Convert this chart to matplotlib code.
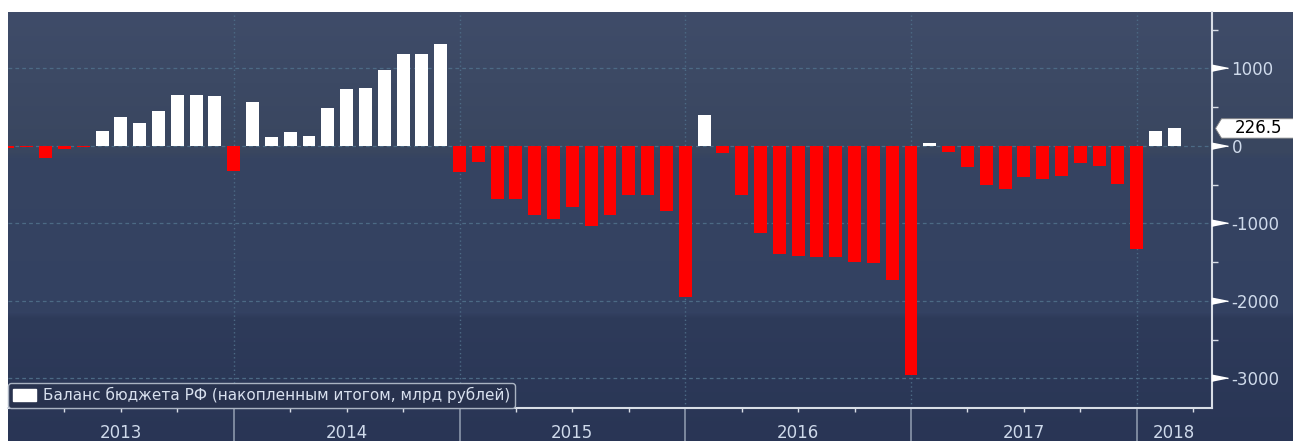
import numpy as np
import matplotlib.pyplot as plt
import matplotlib.transforms as mtransforms
from matplotlib.patches import Patch, Polygon

plt.rcParams['font.family'] = ['DejaVu Sans']

# Баланс бюджета РФ, накопленным итогом, млрд руб., помесячно с дек. 2012 по фев. 2018
values = [
    -30,                                                                   # 2012-12
    -15, -155, -45, -12, 197, 374, 292, 447, 662, 662, 650, -323,         # 2013
    568, 116, 181, 129, 486, 731, 744, 976, 1183, 1183, 1320, -330,       # 2014
    -210, -680, -680, -894, -938, -787, -1032, -894, -636, -636, -839, -1950,   # 2015
    400, -86, -636, -1127, -1389, -1415, -1432, -1432, -1497, -1514, -1729, -2955,  # 2016
    40, -77, -267, -505, -559, -404, -421, -392, -215, -254, -486, -1333,  # 2017
    189, 226.5,                                                            # 2018
]
years = ['2013', '2014', '2015', '2016', '2017', '2018']
legend_label = 'Баланс бюджета РФ (накопленным итогом, млрд рублей)'
y_major = [-3000, -2000, -1000, 0, 1000]
y_minor = [-2500, -1500, -500, 500, 1500]

x = np.arange(len(values))
year_edges = [12 * (i + 1) for i in range(len(years) - 1)]   # декабрьские точки
quarters = [q for q in range(3, 66, 3) if q % 12 != 0]
xmax = 64.0

W, H = 1293, 441
fig = plt.figure(figsize=(W / 100, H / 100), dpi=100, facecolor='white')

# фон-градиент (тёмно-синий)
bg = fig.add_axes([8 / W, 0, 1 - 8 / W, 429 / H])
bg.axis('off')
stops_y = [0, 140, 145, 300, 305, 429]
stops_c = ['#3f4c69', '#39465f', '#364461', '#334162', '#2e3b5a', '#293555']
rgb = np.array([[int(c[i:i + 2], 16) for i in (1, 3, 5)] for c in stops_c]) / 255
yy = np.arange(429)
grad = np.stack([np.interp(yy, stops_y, rgb[:, k]) for k in range(3)], axis=1)
bg.imshow(grad[:, None, :], aspect='auto', extent=[0, 1, 0, 1])

ax = fig.add_axes([8 / W, 33 / H, 1204 / W, 396 / H])
ax.set_facecolor('none')
ax.set_zorder(2)

colors = ['white' if v >= 0 else '#ff0000' for v in values]
ax.bar(x, values, width=0.69, color=colors, zorder=3)

ax.set_xlim(0, xmax)
ax.set_ylim(-3381, 1729)

ax.set_axisbelow(True)
ax.set_yticks(y_major)
ax.set_yticks(y_minor, minor=True)
ax.set_yticklabels([str(v) for v in y_major])
ax.yaxis.tick_right()
ax.tick_params(axis='y', which='major', length=0, pad=14, labelsize=12, labelcolor='#cfdaeb')
ax.tick_params(axis='y', which='minor', length=4.5, width=1, color='#d8dde6', direction='out')

ax.set_xticks(year_edges)
ax.set_xticks(quarters, minor=True)
ax.tick_params(axis='x', which='major', length=26, width=1.2, color='#8b97ab',
               direction='out', labelbottom=False)
ax.tick_params(axis='x', which='minor', length=3, width=1, color='#d8dde6', direction='out')

ax.grid(axis='y', which='major', ls=(0, (3, 2.5)), color='#4c6a85', lw=0.9)
ax.grid(axis='x', which='major', ls=(0, (1, 2)), color='#4c6a85', lw=1.0)

for side in ['left', 'top']:
    ax.spines[side].set_visible(False)
for side in ['right', 'bottom']:
    ax.spines[side].set_color('#d8dde6')
    ax.spines[side].set_linewidth(1.5)

# треугольные метки на правой оси
trans = mtransforms.blended_transform_factory(ax.transAxes, ax.transData)
ax.plot(np.ones(len(y_major)), y_major, transform=trans, ls='none',
        marker=[(0, -1), (0, 1), (5, 0)], ms=23, color='white', clip_on=False, zorder=5)

# подписи годов
bounds = [0] + year_edges + [xmax]
for i, yr in enumerate(years):
    ax.text((bounds[i] + bounds[i + 1]) / 2, -0.062, yr, transform=ax.get_xaxis_transform(),
            ha='center', va='center', fontsize=12, color='#cfdaeb')

# ярлык последнего значения
last = values[-1]
px = 1 / 1204
tag = Polygon([(1 + 3.5 * px, last), (1 + 9.5 * px, last + 125), (1 + 84 * px, last + 125),
               (1 + 84 * px, last - 125), (1 + 9.5 * px, last - 125)],
              closed=True, transform=trans, facecolor='white', edgecolor='#888888',
              lw=0.6, clip_on=False, zorder=6)
ax.add_patch(tag)
ax.text(1 + 46 * px, last, f'{last:.1f}', transform=trans, ha='center', va='center',
        fontsize=12, color='black', zorder=7, clip_on=False)

leg = ax.legend(handles=[Patch(facecolor='white', edgecolor='white', label=legend_label)],
                loc='lower left', bbox_to_anchor=(0, 0), borderaxespad=0, fontsize=11,
                frameon=True, fancybox=True, handlelength=1.5, handleheight=0.9,
                handletextpad=0.5, borderpad=0.3, labelcolor='#d8e0ee')
leg.get_frame().set_facecolor('#28324e')
leg.get_frame().set_edgecolor('#aab3c2')
leg.get_frame().set_alpha(1)
leg.set_zorder(8)

fig.savefig('out.png', dpi=100, facecolor='white')
